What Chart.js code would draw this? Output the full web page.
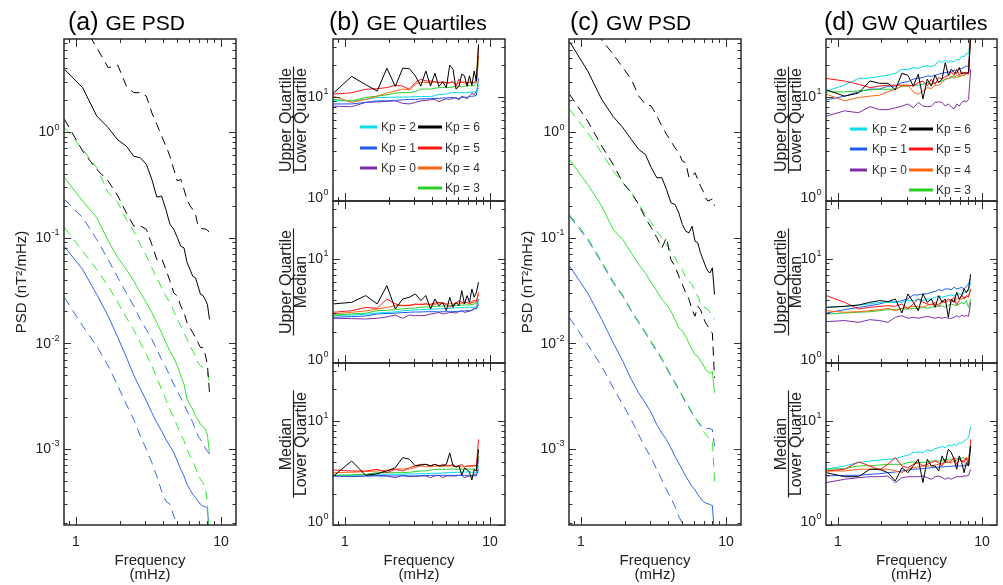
<!DOCTYPE html>
<html>
<head>
<meta charset="utf-8">
<script src="https://cdn.jsdelivr.net/npm/chart.js@4.4.1/dist/chart.umd.min.js"></script>
<style>
  html, body { margin: 0; padding: 0; background: #fff; width: 1003px; height: 585px; overflow: hidden; }
  canvas { position: absolute; left: 0; top: 0; }
</style>
</head>
<body>
<script>
// Frequency bins (mHz): one-hour spectra, n/3600 s for n = 3..30
const freqMHz = [0.833, 1.111, 1.389, 1.667, 1.944, 2.222, 2.500, 2.778, 3.056, 3.333,
  3.611, 3.889, 4.167, 4.444, 4.722, 5.000, 5.278, 5.556, 5.833, 6.111,
  6.389, 6.667, 6.944, 7.222, 7.500, 7.778, 8.056, 8.333];

const kpLabels = ['Kp = 0', 'Kp = 1', 'Kp = 2', 'Kp = 3', 'Kp = 4', 'Kp = 5', 'Kp = 6'];
const psdTickExps = [-3, -2, -1, 0];
const ratioTickExps = [0, 1];
const freqTickLabels = ['1', '10'];

// ---- GE PSD (nT^2/mHz): median (solid) and quartiles (dashed) ----
const gePsdKp6Med = [3.92, 2.63, 1.42, 1.10, 0.84, 0.736, 0.59, 0.57, 0.494, 0.356, 0.242, 0.248, 0.185, 0.134, 0.120, 0.100, 0.083, 0.080, 0.058, 0.050, 0.043, 0.0417, 0.0348, 0.029, 0.0284, 0.026, 0.0233, 0.0168];
const gePsdKp6Up  = [18, 10.5, 6.3, 4.07, 4.28, 2.73, 2.36, 2.36, 2.19, 1.52, 1.18, 0.917, 0.74, 0.59, 0.443, 0.344, 0.356, 0.286, 0.23, 0.20, 0.185, 0.166, 0.129, 0.124, 0.121, 0.121, 0.118, 0.111];
const gePsdKp6Lo  = [1.32, 0.66, 0.443, 0.344, 0.248, 0.172, 0.129, 0.129, 0.12, 0.086, 0.062, 0.064, 0.050, 0.039, 0.030, 0.028, 0.0225, 0.0195, 0.0156, 0.014, 0.0126, 0.0113, 0.0101, 0.0091, 0.0091, 0.0079, 0.0063, 0.0034];
const gePsdKp3Med = [0.37, 0.222, 0.155, 0.093, 0.0645, 0.050, 0.0389, 0.030, 0.0242, 0.0195, 0.0156, 0.0126, 0.0101, 0.0084, 0.0073, 0.0061, 0.0049, 0.0041, 0.00295, 0.00263, 0.00237, 0.00204, 0.0019, 0.0017, 0.00165, 0.00153, 0.00137, 0.00089];
const gePsdKp3Up  = [1.10, 0.685, 0.46, 0.267, 0.214, 0.149, 0.1155, 0.0863, 0.067, 0.0519, 0.0417, 0.0336, 0.028, 0.0242, 0.0202, 0.0168, 0.0146, 0.0126, 0.0109, 0.0094, 0.0084, 0.0076, 0.00655, 0.0061, 0.0059, 0.0057, 0.0053, 0.0042];
const gePsdKp3Lo  = [0.124, 0.0746, 0.050, 0.0348, 0.0242, 0.0175, 0.0135, 0.0101, 0.00785, 0.0061, 0.00472, 0.00366, 0.00295, 0.00237, 0.00197, 0.00164, 0.00137, 0.00119, 0.00099, 0.000855, 0.000766, 0.000662, 0.000575, 0.000513, 0.000478, 0.00044, 0.00031, 0.00012];
const gePsdKp1Med = [0.082, 0.050, 0.029, 0.0181, 0.0113, 0.0074, 0.0050, 0.0037, 0.00285, 0.0022, 0.00177, 0.00148, 0.00123, 0.00106, 0.00092, 0.000766, 0.000638, 0.000552, 0.00046, 0.000413, 0.00037, 0.000345, 0.00032, 0.000298, 0.000287, 0.000284, 0.000271, 0.00015];
const gePsdKp1Up  = [0.23, 0.155, 0.096, 0.062, 0.0417, 0.030, 0.0225, 0.0168, 0.0135, 0.0109, 0.00875, 0.00703, 0.0059, 0.0049, 0.0041, 0.00352, 0.00305, 0.00264, 0.00228, 0.00204, 0.00177, 0.00153, 0.00132, 0.00123, 0.0011, 0.00102, 0.00095, 0.00089];
const gePsdKp1Lo  = [0.027, 0.0146, 0.0094, 0.0061, 0.00394, 0.00264, 0.0019, 0.00132, 0.00099, 0.00074, 0.00055, 0.0004, 0.00032, 0.000298, 0.000231, 0.000193, 0.00016, 0.000135, 0.000115, 0.0001, 0.00009, 0.00008, 0.00007, 0.000065, 0.00006, 0.000055, 0.00005, 0.00004];

// ---- GW PSD (nT^2/mHz) ----
const gwPsdKp6Med = [7.2, 3.79, 2.04, 1.40, 1.10, 0.852, 0.685, 0.614, 0.459, 0.369, 0.369, 0.286, 0.214, 0.206, 0.172, 0.133, 0.115, 0.111, 0.128, 0.0927, 0.0893, 0.0718, 0.062, 0.0537, 0.048, 0.0464, 0.0518, 0.0289];
const gwPsdKp6Up  = [18.6, 11, 7.45, 5.45, 4.07, 3.16, 2.19, 1.83, 1.76, 1.42, 1.14, 0.95, 0.822, 0.71, 0.637, 0.531, 0.512, 0.369, 0.383, 0.412, 0.356, 0.308, 0.276, 0.239, 0.222, 0.227, 0.233, 0.2];
const gwPsdKp6Lo  = [2.28, 1.27, 0.737, 0.494, 0.331, 0.266, 0.206, 0.154, 0.124, 0.1, 0.08, 0.1, 0.062, 0.0537, 0.0432, 0.036, 0.030, 0.026, 0.0208, 0.018, 0.0224, 0.0208, 0.018, 0.0156, 0.0145, 0.013, 0.0125, 0.0047];
const gwPsdKp3Med = [0.55, 0.319, 0.199, 0.119, 0.096, 0.0718, 0.0557, 0.0464, 0.0373, 0.0311, 0.026, 0.0233, 0.0201, 0.0168, 0.014, 0.013, 0.0116, 0.01, 0.0087, 0.0078, 0.0075, 0.0068, 0.0063, 0.0056, 0.0054, 0.0052, 0.0054, 0.0034];
const gwPsdKp3Up  = [1.64, 0.986, 0.637, 0.427, 0.331, 0.266, 0.206, 0.166, 0.138, 0.115, 0.1, 0.086, 0.0745, 0.0645, 0.0557, 0.05, 0.0417, 0.0387, 0.036, 0.0311, 0.0279, 0.0241, 0.0224, 0.0216, 0.0208, 0.0194, 0.018, 0.0168];
const gwPsdKp3Lo  = [0.165, 0.099, 0.0595, 0.0385, 0.0285, 0.0205, 0.016, 0.0128, 0.0104, 0.0086, 0.0072, 0.006, 0.005, 0.0043, 0.0037, 0.0032, 0.0028, 0.0025, 0.00222, 0.00198, 0.00182, 0.0016, 0.00147, 0.00138, 0.0013, 0.00125, 0.0012, 0.00049];
const gwPsdKp1Med = [0.0537, 0.030, 0.0168, 0.0101, 0.00675, 0.00453, 0.00338, 0.00272, 0.00219, 0.00169, 0.00141, 0.00122, 0.00102, 0.00085, 0.000734, 0.000634, 0.00055, 0.00049, 0.00044, 0.00041, 0.000368, 0.000342, 0.000318, 0.000307, 0.000303, 0.000296, 0.00029, 0.00015];
const gwPsdKp1Up  = [0.16, 0.096, 0.0577, 0.0373, 0.0279, 0.0201, 0.0156, 0.0125, 0.0101, 0.0084, 0.007, 0.00583, 0.00487, 0.00421, 0.00364, 0.00315, 0.00272, 0.00244, 0.00219, 0.00196, 0.00182, 0.00169, 0.00157, 0.00152, 0.00157, 0.00155, 0.00152, 0.00106];
const gwPsdKp1Lo  = [0.0174, 0.0097, 0.00605, 0.00378, 0.00262, 0.00189, 0.00136, 0.00102, 0.00082, 0.000634, 0.00051, 0.00041, 0.000342, 0.000285, 0.000229, 0.000198, 0.00017, 0.000148, 0.00013, 0.000115, 0.0001, 0.00009, 0.00008, 0.000072, 0.000065, 0.00006, 0.000055, 0.00005];

// ---- GE quartile ratios, Kp = 0..6 ----
const geUqLqKp0 = [8.1, 8.0, 8.8, 8.9, 9.0, 9.1, 8.6, 8.5, 8.8, 9.1, 9.2, 9.3, 9.4, 8.9, 9.3, 9.5, 9.4, 9.6, 9.8, 9.3, 10.1, 9.8, 9.5, 10.2, 10.8, 10.4, 11.3, 12];
const geUqLqKp1 = [8.5, 8.5, 8.8, 9.1, 9.1, 9.2, 9.3, 9.4, 9.4, 9.5, 9.5, 9.6, 9.6, 9.6, 9.7, 9.7, 9.8, 9.8, 9.6, 9.6, 9.8, 9.9, 9.8, 10.0, 10.1, 10.1, 10.3, 15];
const geUqLqKp2 = [9.1, 9.1, 9.4, 9.8, 9.8, 9.9, 9.9, 9.9, 10.0, 10.0, 10.0, 10.0, 10.2, 10.5, 10.5, 10.6, 10.8, 10.9, 10.9, 10.9, 10.9, 10.9, 10.9, 11.0, 11.1, 11.1, 11.1, 13];
const geUqLqKp3 = [9.4, 9.1, 9.8, 10.1, 10.4, 10.8, 10.9, 10.9, 11.2, 11.8, 11.8, 11.8, 12.0, 12.2, 12.2, 12.2, 12.2, 12.4, 12.6, 12.6, 12.4, 12.6, 12.6, 12.8, 12.6, 12.8, 13.5, 22];
const geUqLqKp4 = [10.1, 8.8, 9.4, 10.1, 10.8, 11.3, 11.8, 11.6, 13.1, 13.8, 13.6, 13.6, 13.8, 13.6, 13.8, 13.4, 13.6, 13.8, 13.1, 13.6, 13.8, 13.4, 13.6, 13.8, 13.4, 13.6, 13.8, 24.5];
const geUqLqKp5 = [10.55, 10.9, 11.75, 11.9, 12.2, 12.85, 12.6, 11.75, 13.6, 14.7, 14.1, 14.1, 13.85, 13.6, 13.85, 13.6, 13.6, 13.85, 12.6, 14.7, 13.6, 13.85, 13.1, 13.85, 13.6, 13.6, 14.7, 30.6];
const geUqLqKp6 = [10.8, 15.6, 13.0, 11.3, 18.7, 12.5, 18.7, 18.5, 15.8, 12.6, 17.6, 12.6, 16.7, 12.5, 13.8, 12.2, 20.0, 18.3, 11.8, 12.6, 16.4, 15.8, 12.6, 15.8, 12.8, 17.6, 14.1, 31.7];

const geUqMedKp0 = [2.68, 2.66, 2.64, 2.68, 2.76, 2.88, 2.68, 2.88, 2.84, 2.84, 2.86, 2.95, 2.98, 3.06, 2.95, 2.98, 3.06, 3.04, 3.01, 3.1, 3.17, 3.05, 3.1, 3.12, 3.2, 3.34, 3.3, 3.68];
const geUqMedKp1 = [2.74, 2.78, 2.82, 2.95, 2.98, 3.0, 3.04, 3.06, 3.08, 3.08, 3.1, 3.1, 3.1, 3.08, 3.1, 3.1, 3.1, 3.1, 3.12, 3.12, 3.14, 3.15, 3.17, 3.17, 3.2, 3.29, 3.35, 4.1];
const geUqMedKp2 = [2.84, 2.88, 2.92, 3.01, 3.05, 3.08, 3.17, 3.2, 3.22, 3.24, 3.26, 3.28, 3.28, 3.3, 3.32, 3.34, 3.34, 3.36, 3.38, 3.38, 3.4, 3.41, 3.41, 3.42, 3.41, 3.41, 3.45, 3.81];
const geUqMedKp3 = [2.88, 2.95, 3.0, 3.17, 3.2, 3.24, 3.3, 3.34, 3.36, 3.41, 3.44, 3.45, 3.49, 3.49, 3.52, 3.54, 3.54, 3.55, 3.56, 3.57, 3.58, 3.59, 3.59, 3.6, 3.64, 3.68, 3.7, 4.1];
const geUqMedKp4 = [2.95, 3.06, 3.15, 3.29, 3.4, 3.54, 3.56, 3.59, 3.62, 3.68, 3.65, 3.59, 3.62, 3.76, 3.7, 3.68, 3.7, 3.68, 3.72, 3.76, 3.72, 3.76, 3.8, 3.72, 3.78, 3.81, 3.85, 4.76];
const geUqMedKp5 = [3.06, 3.17, 3.41, 3.34, 4.1, 3.68, 3.54, 3.54, 3.68, 3.6, 3.7, 3.65, 3.75, 3.81, 3.75, 3.65, 3.41, 3.6, 3.75, 3.96, 3.8, 3.75, 3.81, 3.7, 3.9, 3.96, 3.9, 4.59];
const geUqMedKp6 = [3.68, 3.81, 4.42, 3.68, 5.51, 3.29, 4.1, 4.26, 4.59, 3.96, 4.42, 3.29, 4.1, 3.54, 3.81, 3.17, 4.26, 3.41, 3.81, 3.54, 4.94, 3.68, 4.42, 3.81, 5.12, 4.26, 4.76, 5.93];

const geMedLqKp0 = [2.95, 2.9, 2.95, 2.99, 2.95, 2.84, 2.99, 2.9, 2.92, 2.95, 2.95, 2.84, 2.95, 2.99, 2.84, 2.95, 2.95, 2.95, 2.95, 2.99, 2.99, 2.84, 2.9, 2.95, 2.95, 3.06, 3.0, 3.42];
const geMedLqKp1 = [2.95, 2.95, 2.95, 2.95, 2.95, 2.95, 2.95, 2.95, 2.95, 2.97, 2.97, 2.99, 2.99, 2.99, 2.99, 2.99, 2.99, 2.99, 2.99, 2.99, 2.99, 2.99, 2.99, 2.99, 2.97, 2.95, 2.97, 4.26];
const geMedLqKp2 = [2.99, 3.0, 3.02, 3.06, 3.06, 3.06, 3.06, 3.08, 3.08, 3.1, 3.1, 3.13, 3.13, 3.13, 3.15, 3.17, 3.17, 3.17, 3.2, 3.2, 3.2, 3.22, 3.22, 3.22, 3.2, 3.17, 3.2, 3.68];
const geMedLqKp3 = [2.99, 3.02, 3.06, 3.17, 3.17, 3.17, 3.17, 3.2, 3.25, 3.29, 3.3, 3.36, 3.42, 3.42, 3.42, 3.42, 3.42, 3.45, 3.42, 3.42, 3.44, 3.42, 3.42, 3.45, 3.42, 3.42, 3.45, 4.59];
const geMedLqKp4 = [3.17, 3.2, 3.25, 3.29, 3.35, 3.42, 3.45, 3.42, 3.55, 3.68, 3.62, 3.62, 3.65, 3.68, 3.68, 3.65, 3.68, 3.68, 3.62, 3.62, 3.6, 3.62, 3.65, 3.65, 3.68, 3.68, 3.7, 5.31];
const geMedLqKp5 = [3.37, 3.29, 3.29, 3.42, 3.17, 3.42, 3.29, 3.54, 3.68, 3.81, 3.81, 3.68, 3.81, 3.68, 3.81, 3.7, 3.68, 3.81, 3.6, 3.7, 3.81, 3.6, 3.68, 3.7, 3.68, 3.72, 3.68, 6.6];
const geMedLqKp6 = [2.95, 4.1, 2.99, 3.1, 3.29, 3.54, 4.42, 4.26, 3.68, 3.75, 3.81, 3.68, 3.81, 3.68, 3.68, 3.81, 4.9, 3.7, 3.6, 3.68, 3.0, 3.5, 3.4, 3.2, 2.7, 3.4, 3.3, 5.31];

// ---- GW quartile ratios, Kp = 0..6 ----
const gwUqLqKp0 = [6.5, 7.3, 7.0, 8.0, 7.5, 7.5, 7.8, 8.1, 8.5, 7.8, 8.8, 8.1, 8.0, 8.1, 8.8, 8.9, 8.8, 8.1, 8.5, 8.0, 7.6, 8.5, 8.1, 8.8, 9.1, 8.9, 9.4, 18.3];
const gwUqLqKp1 = [9.3, 10.1, 11.1, 11.8, 11.8, 12.6, 12.6, 13.6, 13.9, 14.7, 15.0, 15.2, 15.8, 15.6, 16.0, 16.4, 16.7, 17.0, 17.2, 17.2, 18.0, 17.6, 18.3, 18.6, 19.0, 19.7, 19.4, 38];
const gwUqLqKp2 = [11.3, 12.9, 14.9, 15.1, 15.6, 16.0, 16.7, 18.3, 18.0, 19.0, 18.6, 19.4, 19.7, 19.4, 20.0, 22.0, 21.2, 22.4, 21.2, 22.0, 21.6, 22.7, 22.4, 24.5, 24.1, 26.0, 25.5, 40];
const gwUqLqKp3 = [11.1, 11.1, 11.3, 11.6, 11.75, 11.75, 11.75, 12.6, 12.6, 12.85, 12.85, 13.1, 13.6, 13.1, 13.6, 13.85, 14.1, 14.7, 14.9, 15.2, 15.8, 15.2, 15.6, 15.8, 16.0, 16.7, 16.4, 36];
const gwUqLqKp4 = [10.55, 9.1, 9.8, 10.1, 10.3, 11.1, 11.75, 12.6, 12.85, 11.1, 10.55, 11.3, 12.2, 11.9, 12.85, 12.85, 13.6, 14.7, 14.9, 15.6, 14.9, 16.0, 15.6, 16.0, 15.8, 16.7, 16.4, 40];
const gwUqLqKp5 = [14.9, 14.1, 13.1, 12.2, 12.6, 12.85, 12.85, 12.85, 12.85, 12.6, 13.6, 14.1, 12.6, 14.7, 13.1, 15.2, 14.7, 15.6, 15.8, 17.2, 16.0, 18.3, 16.0, 17.2, 16.4, 17.0, 16.7, 40];
const gwUqLqKp6 = [11.6, 10.1, 10.8, 14.1, 13.4, 13.4, 11.6, 16.7, 16.0, 12.6, 16.4, 9.5, 14.7, 12.6, 16.0, 13.6, 14.7, 21.2, 16.0, 18.3, 17.0, 16.7, 19.0, 16.4, 17.0, 16.7, 17.0, 40];

const gwUqMedKp0 = [2.49, 2.55, 2.45, 2.6, 2.55, 2.45, 2.74, 2.84, 2.68, 2.74, 2.68, 2.74, 2.8, 2.74, 2.68, 2.74, 2.68, 2.74, 2.68, 2.68, 2.74, 2.84, 2.74, 2.88, 2.8, 2.84, 2.8, 3.81];
const gwUqMedKp1 = [3.01, 3.24, 3.41, 3.54, 3.68, 3.87, 3.81, 3.96, 4.1, 4.49, 4.49, 4.59, 4.59, 4.76, 4.83, 5.05, 4.94, 5.12, 5.12, 5.05, 5.31, 5.12, 5.2, 5.31, 5.12, 5.43, 5.72, 6.4];
const gwUqMedKp2 = [3.41, 3.49, 3.59, 3.68, 3.81, 3.81, 3.87, 3.81, 3.96, 3.96, 4.1, 3.96, 4.1, 4.1, 4.26, 4.36, 4.26, 4.36, 4.42, 4.49, 4.36, 4.59, 4.59, 4.49, 4.76, 4.69, 4.94, 5.9];
const gwUqMedKp3 = [2.95, 3.01, 3.06, 3.1, 3.17, 3.24, 3.24, 3.29, 3.29, 3.34, 3.34, 3.41, 3.34, 3.41, 3.49, 3.49, 3.54, 3.41, 3.59, 3.68, 3.59, 3.54, 3.68, 3.81, 3.68, 3.96, 3.41, 4.1];
const gwUqMedKp4 = [3.17, 3.06, 3.1, 3.17, 3.24, 3.34, 3.17, 3.34, 3.41, 3.49, 3.49, 3.41, 3.59, 3.68, 3.59, 3.68, 3.81, 3.81, 3.96, 3.81, 3.96, 4.1, 4.1, 4.1, 4.26, 4.26, 4.42, 5.1];
const gwUqMedKp5 = [4.42, 3.81, 3.29, 3.41, 3.49, 3.54, 3.49, 3.68, 3.29, 3.68, 4.1, 3.81, 3.68, 3.59, 3.81, 3.49, 3.96, 3.81, 4.1, 3.96, 4.26, 3.59, 3.96, 4.49, 4.1, 4.42, 4.26, 5.1];
const gwUqMedKp6 = [3.41, 3.49, 3.59, 3.81, 3.96, 3.87, 4.1, 3.01, 4.59, 3.81, 3.17, 4.59, 3.81, 4.1, 3.41, 4.42, 3.81, 4.1, 2.74, 4.1, 3.81, 4.76, 4.1, 4.42, 5.12, 4.76, 5.12, 7.1];

const gwMedLqKp0 = [2.55, 2.74, 2.84, 2.9, 2.9, 2.95, 2.55, 2.84, 2.9, 2.9, 2.9, 2.95, 2.84, 2.74, 2.9, 2.95, 2.84, 2.74, 2.84, 2.74, 2.84, 2.9, 2.9, 2.9, 2.95, 2.95, 2.99, 3.42];
const gwMedLqKp1 = [2.95, 2.99, 2.99, 3.06, 3.1, 3.17, 3.22, 3.29, 3.35, 3.42, 3.45, 3.47, 3.5, 3.54, 3.56, 3.58, 3.6, 3.62, 3.64, 3.66, 3.68, 3.68, 3.68, 3.68, 3.7, 3.74, 3.74, 5.72];
const gwMedLqKp2 = [3.42, 3.68, 3.96, 4.1, 4.19, 4.26, 4.32, 4.52, 4.66, 4.94, 5.01, 4.94, 5.24, 5.12, 5.39, 5.51, 5.64, 5.51, 5.8, 5.72, 5.93, 5.72, 6.16, 6.07, 6.38, 6.62, 6.87, 8.8];
const gwMedLqKp3 = [3.42, 3.47, 3.68, 3.68, 3.75, 3.81, 3.81, 3.81, 3.96, 4.02, 3.96, 3.96, 4.0, 4.1, 4.1, 4.1, 4.15, 4.26, 4.2, 4.22, 4.3, 4.3, 4.32, 4.38, 4.42, 4.26, 4.3, 5.72];
const gwMedLqKp4 = [3.29, 3.29, 3.42, 3.42, 3.42, 3.42, 3.3, 3.17, 3.42, 3.54, 3.6, 3.68, 3.68, 3.68, 3.75, 3.81, 3.9, 3.96, 3.96, 3.96, 4.1, 4.2, 4.26, 4.1, 4.2, 4.26, 4.3, 5.72];
const gwMedLqKp5 = [3.29, 3.42, 4.02, 3.68, 3.37, 3.81, 4.42, 3.68, 3.54, 3.81, 3.96, 3.68, 3.81, 3.96, 4.1, 3.96, 3.68, 4.26, 3.96, 4.1, 4.42, 3.81, 4.26, 4.1, 3.96, 4.42, 3.68, 6.6];
const gwMedLqKp6 = [3.17, 2.9, 2.9, 3.42, 3.42, 3.17, 2.64, 3.54, 3.17, 3.68, 4.26, 2.55, 4.26, 3.68, 3.68, 3.29, 4.59, 3.96, 5.31, 4.94, 4.26, 3.42, 4.59, 3.96, 3.17, 3.96, 3.68, 5.72];

// ---- styling ----
const W = 1003, H = 585;
const X_MIN = 0.8264, X_MAX = 12.69;
const PSD_MIN = 1.9e-4, PSD_MAX = 7.6;
const RATIO_MIN = 1, RATIO_MAX = 35.6;
const FONT = '"Liberation Sans", Arial, Helvetica, sans-serif';
const kpColors = ['#7d2ea8', '#2058ee', '#00dcea', '#28d028', '#ff6410', '#ff1414', '#000000'];
const psdColors = { kp6: '#000000', kp3: '#2ee82e', kp1: '#3264f0' };
const DASH = [9, 6];

function pts(values) {
  return values.map((v, i) => ({ x: freqMHz[i], y: v }));
}

function psdSets(med, up, lo, color) {
  return [
    { data: pts(med), borderColor: color, borderWidth: 1 },
    { data: pts(up), borderColor: color, borderWidth: 1, borderDash: DASH },
    { data: pts(lo), borderColor: color, borderWidth: 1, borderDash: DASH }
  ];
}

function ratioSets(series) {
  // black (Kp 6) is drawn last so it sits on top
  return series.map((vals, k) => ({ data: pts(vals), borderColor: kpColors[k], borderWidth: 1, order: 6 - k }));
}

// ---- decorations: frame, inward ticks, labels, titles, legend ----
function drawPow(ctx, exp, xRight, yMid) {
  ctx.textBaseline = 'middle';
  ctx.textAlign = 'left';
  ctx.font = '14px ' + FONT;
  const base = '10';
  const wb = ctx.measureText(base).width;
  ctx.font = '9px ' + FONT;
  const es = String(exp);
  const we = ctx.measureText(es).width;
  ctx.font = '14px ' + FONT;
  ctx.fillText(base, xRight - we - wb - 0.5, yMid + 0.5);
  ctx.font = '9px ' + FONT;
  ctx.fillText(es, xRight - we, yMid - 5);
}

const decorPlugin = {
  id: 'panelDecor',
  afterDraw(chart, args, opts) {
    const ctx = chart.ctx;
    const a = chart.chartArea;
    const xs = chart.scales.x, ys = chart.scales.y;
    ctx.save();
    ctx.fillStyle = '#222';
    ctx.strokeStyle = '#333';

    // inward ticks on all four sides
    ctx.lineWidth = 1;
    ctx.beginPath();
    const xMajor = [1, 10];
    const xMinor = [0.9, 2, 3, 4, 5, 6, 7, 8, 9];
    xMajor.concat(xMinor).forEach(v => {
      const px = Math.round(xs.getPixelForValue(v)) + 0.5;
      const len = xMajor.includes(v) ? 8 : 4;
      ctx.moveTo(px, a.bottom); ctx.lineTo(px, a.bottom - len);
      ctx.moveTo(px, a.top); ctx.lineTo(px, a.top + len);
    });
    const yMin = ys.min, yMax = ys.max;
    for (let d = Math.floor(Math.log10(yMin)); d <= Math.ceil(Math.log10(yMax)); d++) {
      for (let k = 1; k <= 9; k++) {
        const v = k * Math.pow(10, d);
        if (v < yMin * 0.999 || v > yMax * 1.001) continue;
        const py = Math.round(ys.getPixelForValue(v)) + 0.5;
        const len = k === 1 ? 7 : 3.5;
        ctx.moveTo(a.left, py); ctx.lineTo(a.left + len, py);
        ctx.moveTo(a.right, py); ctx.lineTo(a.right - len, py);
      }
    }
    ctx.stroke();

    // frame
    ctx.lineWidth = 1.5;
    ctx.strokeStyle = '#2a2a2a';
    ctx.strokeRect(a.left, a.top, a.right - a.left, a.bottom - a.top);

    // y tick labels
    opts.yExps.forEach(e => {
      let py = ys.getPixelForValue(Math.pow(10, e));
      if (Math.abs(py - a.bottom) < 1) py -= 3;
      drawPow(ctx, e === 0 ? '0' : (e < 0 ? '-' + (-e) : String(e)), a.left - 4.5, py);
    });

    // x tick labels and axis title
    if (opts.xLabels) {
      ctx.font = '14px ' + FONT;
      ctx.textAlign = 'center';
      ctx.textBaseline = 'middle';
      [1, 10].forEach((v, i) => ctx.fillText(freqTickLabels[i], xs.getPixelForValue(v), 542));
      ctx.font = '15px ' + FONT;
      ctx.textBaseline = 'alphabetic';
      const cx = (a.left + a.right) / 2;
      ctx.fillText('Frequency', cx, 565);
      ctx.fillText('(mHz)', cx, 579);
    }

    // y axis title (plain or as a ratio with a fraction bar)
    if (opts.yTitle) {
      const t = opts.yTitle;
      ctx.save();
      ctx.translate(t.x, t.y);
      ctx.rotate(-Math.PI / 2);
      ctx.textAlign = 'center';
      if (t.text) {
        ctx.font = '15px ' + FONT;
        ctx.textBaseline = 'middle';
        ctx.fillText(t.text, 0, 0);
      } else {
        ctx.font = '16px ' + FONT;
        ctx.textBaseline = 'alphabetic';
        const wn = ctx.measureText(t.num).width;
        const wd = ctx.measureText(t.den).width;
        const L = Math.max(wn, wd) + 3;
        ctx.fillText(t.num, 0, -2.5);
        ctx.fillText(t.den, 0, 12.5);
        ctx.strokeStyle = '#222';
        ctx.lineWidth = 1.2;
        ctx.beginPath();
        ctx.moveTo(-L / 2, 0); ctx.lineTo(L / 2, 0);
        ctx.stroke();
      }
      ctx.restore();
    }

    // panel title
    if (opts.title) {
      const t = opts.title;
      ctx.fillStyle = '#000';
      ctx.textAlign = 'left';
      ctx.textBaseline = 'alphabetic';
      ctx.font = '25px ' + FONT;
      const tag = t.tag + ' ';
      ctx.fillText(tag, t.x, 30);
      const w = ctx.measureText(tag).width;
      ctx.font = '21px ' + FONT;
      ctx.fillText(t.text, t.x + w, 30);
    }

    // Kp legend
    if (opts.legend) {
      const L = opts.legend;
      const entries = [
        { k: 2, col: 0, row: 0 }, { k: 1, col: 0, row: 1 }, { k: 0, col: 0, row: 2 },
        { k: 6, col: 1, row: 0 }, { k: 5, col: 1, row: 1 }, { k: 4, col: 1, row: 2 }, { k: 3, col: 1, row: 3 }
      ];
      ctx.font = '12px ' + FONT;
      ctx.textAlign = 'left';
      ctx.textBaseline = 'middle';
      entries.forEach(en => {
        const c = L.cols[en.col];
        const y = L.rows[en.row];
        ctx.strokeStyle = kpColors[en.k];
        ctx.lineWidth = 3;
        ctx.beginPath();
        ctx.moveTo(c.x0, y); ctx.lineTo(c.x1, y);
        ctx.stroke();
        ctx.fillStyle = '#333';
        ctx.fillText(kpLabels[en.k], c.tx, y + 0.5);
      });
    }
    ctx.restore();
  }
};

function makePanel(box, yMin, yMax, datasets, decor) {
  const canvas = document.createElement('canvas');
  canvas.width = W; canvas.height = H;
  document.body.appendChild(canvas);
  return new Chart(canvas, {
    type: 'line',
    data: { datasets },
    options: {
      responsive: false,
      animation: false,
      events: [],
      devicePixelRatio: 1,
      layout: { padding: { left: box.l, top: box.t, right: W - box.r, bottom: H - box.b } },
      scales: {
        x: { type: 'logarithmic', min: X_MIN, max: X_MAX, display: false },
        y: { type: 'logarithmic', min: yMin, max: yMax, display: false }
      },
      elements: { point: { radius: 0 }, line: { tension: 0 } },
      plugins: { legend: { display: false }, tooltip: { enabled: false }, panelDecor: decor }
    },
    plugins: [decorPlugin]
  });
}

// (a) GE PSD
makePanel({ l: 64, r: 236, t: 39, b: 525 }, PSD_MIN, PSD_MAX,
  [].concat(psdSets(gePsdKp6Med, gePsdKp6Up, gePsdKp6Lo, psdColors.kp6),
            psdSets(gePsdKp3Med, gePsdKp3Up, gePsdKp3Lo, psdColors.kp3),
            psdSets(gePsdKp1Med, gePsdKp1Up, gePsdKp1Lo, psdColors.kp1)),
  { yExps: psdTickExps, xLabels: true, yTitle: { x: 22, y: 282, text: 'PSD (nT\u00B2/mHz)' },
    title: { x: 68, tag: '(a)', text: 'GE PSD' } });

// (c) GW PSD
makePanel({ l: 569, r: 741, t: 39, b: 525 }, PSD_MIN, PSD_MAX,
  [].concat(psdSets(gwPsdKp6Med, gwPsdKp6Up, gwPsdKp6Lo, psdColors.kp6),
            psdSets(gwPsdKp3Med, gwPsdKp3Up, gwPsdKp3Lo, psdColors.kp3),
            psdSets(gwPsdKp1Med, gwPsdKp1Up, gwPsdKp1Lo, psdColors.kp1)),
  { yExps: psdTickExps, xLabels: true, yTitle: { x: 528, y: 282, text: 'PSD (nT\u00B2/mHz)' },
    title: { x: 570, tag: '(c)', text: 'GW PSD' } });

// (b) and (d): three stacked ratio panels each
const rows = [{ t: 39, b: 201 }, { t: 201, b: 363 }, { t: 363, b: 525 }];
const fracs = [
  { num: 'Upper Quartile', den: 'Lower Quartile' },
  { num: 'Upper Quartile', den: 'Median' },
  { num: 'Median', den: 'Lower Quartile' }
];
const geRatios = [
  [geUqLqKp0, geUqLqKp1, geUqLqKp2, geUqLqKp3, geUqLqKp4, geUqLqKp5, geUqLqKp6],
  [geUqMedKp0, geUqMedKp1, geUqMedKp2, geUqMedKp3, geUqMedKp4, geUqMedKp5, geUqMedKp6],
  [geMedLqKp0, geMedLqKp1, geMedLqKp2, geMedLqKp3, geMedLqKp4, geMedLqKp5, geMedLqKp6]
];
const gwRatios = [
  [gwUqLqKp0, gwUqLqKp1, gwUqLqKp2, gwUqLqKp3, gwUqLqKp4, gwUqLqKp5, gwUqLqKp6],
  [gwUqMedKp0, gwUqMedKp1, gwUqMedKp2, gwUqMedKp3, gwUqMedKp4, gwUqMedKp5, gwUqMedKp6],
  [gwMedLqKp0, gwMedLqKp1, gwMedLqKp2, gwMedLqKp3, gwMedLqKp4, gwMedLqKp5, gwMedLqKp6]
];

rows.forEach((r, i) => {
  const cy = (r.t + r.b) / 2;
  makePanel({ l: 333, r: 505, t: r.t, b: r.b }, RATIO_MIN, RATIO_MAX, ratioSets(geRatios[i]), {
    yExps: ratioTickExps,
    xLabels: i === 2,
    yTitle: { x: 293.5, y: cy, num: fracs[i].num, den: fracs[i].den },
    title: i === 0 ? { x: 329, tag: '(b)', text: 'GE Quartiles' } : null,
    legend: i === 0 ? { cols: [{ x0: 360, x1: 377, tx: 381 }, { x0: 418, x1: 442, tx: 445 }], rows: [127, 148, 168, 188] } : null
  });
  makePanel({ l: 826, r: 997, t: r.t, b: r.b }, RATIO_MIN, RATIO_MAX, ratioSets(gwRatios[i]), {
    yExps: ratioTickExps,
    xLabels: i === 2,
    yTitle: { x: 788.5, y: cy, num: fracs[i].num, den: fracs[i].den },
    title: i === 0 ? { x: 824, tag: '(d)', text: 'GW Quartiles' } : null,
    legend: i === 0 ? { cols: [{ x0: 850, x1: 867, tx: 872 }, { x0: 909, x1: 933, tx: 936 }], rows: [129, 149, 170, 190] } : null
  });
});
</script>
</body>
</html>
